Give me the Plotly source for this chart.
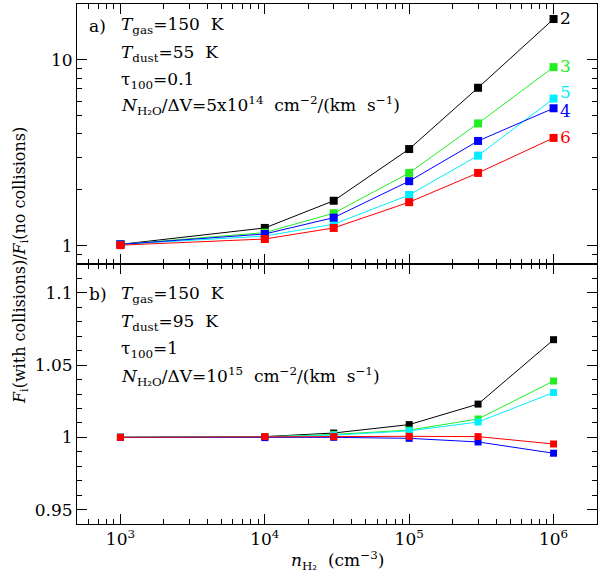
import math
import plotly.graph_objects as go

# densities n_H2 (cm^-3)
n_h2 = [1e3, 1e4, 3e4, 1e5, 3e5, 1e6]

line_ids = ['2', '3', '5', '4', '6']
colors = ['#000000', '#22ee22', '#00eeff', '#0000ff', '#ff0000']
label_shift = [1, 1, 7, -3, 1]  # vertical nudge of the end labels, px

# panel a) ratio values
top_2 = [1.02, 1.25, 1.75, 3.32, 7.09, 16.6]
top_3 = [1.02, 1.18, 1.50, 2.47, 4.56, 9.15]
top_5 = [1.02, 1.13, 1.31, 1.88, 3.06, 6.20]
top_4 = [1.02, 1.16, 1.42, 2.23, 3.67, 5.50]
top_6 = [1.01, 1.09, 1.25, 1.72, 2.47, 3.81]

# panel b) ratio values
bot_2 = [1.0, 1.0005, 1.003, 1.0088, 1.023, 1.0676]
bot_3 = [1.0, 1.0004, 1.002, 1.005, 1.0127, 1.039]
bot_5 = [1.0, 1.0003, 1.0015, 1.0045, 1.0106, 1.031]
bot_4 = [1.0, 0.9998, 1.0, 0.9993, 0.9968, 0.989]
bot_6 = [1.0, 1.0005, 1.0005, 1.0007, 1.0005, 0.9954]

top_series = [top_2, top_3, top_5, top_4, top_6]
bot_series = [bot_2, bot_3, bot_5, bot_4, bot_6]

FONT = 'DejaVu Serif'

# plot area in pixels
L, R, T, B = 77, 597, 4, 524


def px(x):
    return (x - L) / (R - L)


def py(y):
    return (B - y) / (B - T)


fig = go.Figure()

for vals, col in zip(top_series, colors):
    fig.add_trace(go.Scatter(x=n_h2, y=vals, mode='lines+markers',
                             line=dict(color=col, width=1),
                             marker=dict(symbol='square', size=8, color=col),
                             xaxis='x2', yaxis='y2', showlegend=False))

for vals, col in zip(bot_series, colors):
    fig.add_trace(go.Scatter(x=n_h2, y=vals, mode='lines+markers',
                             line=dict(color=col, width=1),
                             marker=dict(symbol='square', size=7, color=col),
                             xaxis='x', yaxis='y', showlegend=False))

# curve labels at the right end of panel a)
for vals, col, lab, sh in zip(top_series, colors, line_ids, label_shift):
    fig.add_annotation(x=math.log10(n_h2[-1]), y=math.log10(vals[-1]),
                       xref='x2', yref='y2', text=lab, borderpad=0,
                       showarrow=False, xanchor='left', xshift=5, yshift=sh,
                       font=dict(color=col, size=17, family=FONT))

axis_common = dict(showline=True, linecolor='black', linewidth=1, mirror='ticks',
                   ticks='inside', tickcolor='black', showgrid=False, zeroline=False)

xrange = [2.699, 6.301]
xticks = [1e3, 1e4, 1e5, 1e6]
xlabels = ['10<sup>3</sup>', '10<sup>4</sup>', '10<sup>5</sup>', '10<sup>6</sup>']
x_minor = [m * 10 ** e for e in range(2, 7) for m in range(2, 10)]
y_minor_log = [m * 10 ** e for e in range(-1, 2) for m in range(2, 10)]

log_minor_x = dict(ticks='inside', ticklen=5, tickcolor='black', tickmode='array',
                   tickvals=x_minor)

fig.update_layout(
    width=600, height=577,
    margin=dict(l=L, r=600 - R, t=T, b=577 - B, autoexpand=False),
    plot_bgcolor='white', paper_bgcolor='white',
    font=dict(family=FONT, size=17, color='black'),
    xaxis=dict(type='log', range=xrange, tickmode='array', tickvals=xticks,
               ticktext=xlabels, ticklen=10, anchor='y', minor=log_minor_x,
               **axis_common),
    xaxis2=dict(type='log', range=xrange, tickmode='array', tickvals=xticks,
                showticklabels=False, ticklen=10, anchor='y2', matches='x',
                minor=log_minor_x, **axis_common),
    yaxis=dict(domain=[0, 0.5], range=[0.94, 1.12], tickmode='array',
               tickvals=[0.95, 1, 1.05, 1.1],
               ticktext=['0.95', '1', '1.05', '1.1'], ticklen=10, anchor='x',
               minor=dict(ticks='inside', ticklen=5, tickcolor='black', dtick=0.01),
               **axis_common),
    yaxis2=dict(domain=[0.5, 1], type='log', range=[-0.097, 1.301],
                tickmode='array', tickvals=[1, 10], ticktext=['1', '10'],
                ticklen=10, anchor='x2',
                minor=dict(ticks='inside', ticklen=5, tickcolor='black',
                           tickmode='array', tickvals=y_minor_log),
                **axis_common),
)

# axis titles
fig.add_annotation(x=px(337), y=py(560), xref='paper', yref='paper',
                   text='<i>n</i><sub>H₂</sub>  (cm<sup>−3</sup>)',
                   showarrow=False, xanchor='center', yanchor='middle',
                   font=dict(size=17, family=FONT))
fig.add_annotation(x=px(20), y=py(266), xref='paper', yref='paper',
                   text='<i>F</i><sub>i</sub>(with collisions)/<i>F</i><sub>i</sub>(no collisions)',
                   textangle=-90, showarrow=False, xanchor='center', yanchor='middle',
                   font=dict(size=16, family=FONT))

# parameter text
top_text = ['<i>T</i><sub>gas</sub>=150  K',
            '<i>T</i><sub>dust</sub>=55  K',
            'τ<sub>100</sub>=0.1',
            '<i>N</i><sub>H₂O</sub>/ΔV=5x10<sup>14</sup>  cm<sup>−2</sup>/(km  s<sup>−1</sup>)']
bot_text = ['<i>T</i><sub>gas</sub>=150  K',
            '<i>T</i><sub>dust</sub>=95  K',
            'τ<sub>100</sub>=1',
            '<i>N</i><sub>H₂O</sub>/ΔV=10<sup>15</sup>  cm<sup>−2</sup>/(km  s<sup>−1</sup>)']
top_y = [26, 53, 80, 106]
bot_y = [294, 322, 349, 376]

for txt, yy in zip(top_text, top_y):
    fig.add_annotation(x=px(119), y=py(yy), xref='paper', yref='paper', text=txt,
                       showarrow=False, xanchor='left', yanchor='middle',
                       font=dict(size=17, family=FONT))
for txt, yy in zip(bot_text, bot_y):
    fig.add_annotation(x=px(119), y=py(yy), xref='paper', yref='paper', text=txt,
                       showarrow=False, xanchor='left', yanchor='middle',
                       font=dict(size=17, family=FONT))

fig.add_annotation(x=px(87), y=py(26), xref='paper', yref='paper', text='a)',
                   showarrow=False, xanchor='left', yanchor='middle',
                   font=dict(size=17, family=FONT))
fig.add_annotation(x=px(87), y=py(294), xref='paper', yref='paper', text='b)',
                   showarrow=False, xanchor='left', yanchor='middle',
                   font=dict(size=17, family=FONT))

# drop the default page margin so the figure sits at the window corner
fig.write_html('out.html', config={'displayModeBar': False},
               post_script="document.body.style.margin='0';")
